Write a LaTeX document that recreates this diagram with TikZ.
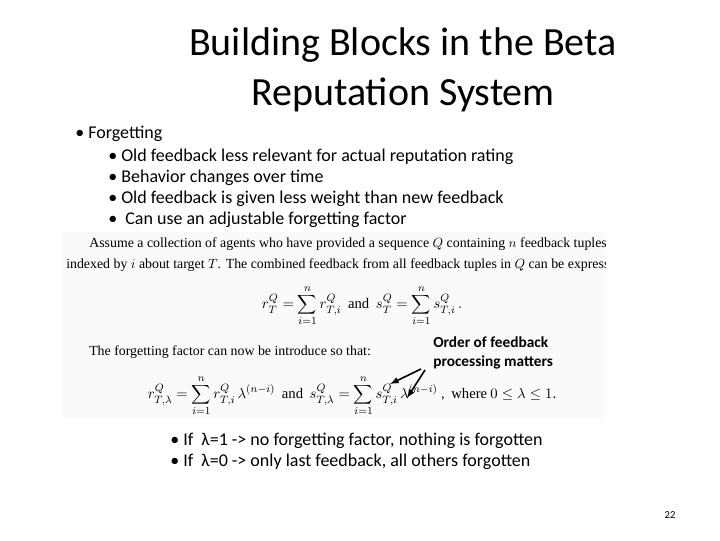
\documentclass[tikz,border=0pt]{standalone}
\usepackage{fontspec}
\setmainfont{Carlito}
\newfontfamily\serif{Liberation Serif}
\begin{document}
\begin{tikzpicture}[x=0.75pt,y=-0.75pt,
  bul/.style={anchor=west,font=\fontsize{13.5}{16}\selectfont,inner sep=0},
  ser/.style={anchor=west,font=\serif\fontsize{10.4}{13}\selectfont,inner sep=0},
  eq/.style={font=\fontsize{11}{13}\selectfont,inner sep=0},
  ann/.style={anchor=west,font=\bfseries\fontsize{11.5}{14.5}\selectfont,inner sep=0,align=left}]
\useasboundingbox (0,0) rectangle (720,540);
\node[font=\fontsize{30}{37.5}\selectfont,align=center] (title) at (403,70) {Building Blocks in the Beta\\Reputation System};
\node[bul] (b0) at (75,134) {• Forgetting};
\node[bul] (b1) at (108,157) {• Old feedback less relevant for actual reputation rating};
\node[bul] (b2) at (108,178) {• Behavior changes over time};
\node[bul] (b3) at (108,199) {• Old feedback is given less weight than new feedback};
\node[bul] (b4) at (108,220) {•\ \ Can use an adjustable forgetting factor};
\begin{scope}
\clip (62,232) rectangle (605,418);
\fill[gray!4] (62,232) rectangle (605,418);
\node[ser] (t1) at (89,244) {Assume a collection of agents who have provided a sequence $Q$ containing $n$ feedback tuples $(r^Q_{T,i}, s^Q_{T,i})$};
\node[ser] (t2) at (66,265) {indexed by $i$ about target $T$. The combined feedback from all feedback tuples in $Q$ can be expressed as:};
\node[eq] (e1) at (362,306) {$r^Q_T=\displaystyle\sum_{i=1}^n r^Q_{T,i}$\ \ {\serif and}\ \ $s^Q_T=\displaystyle\sum_{i=1}^n s^Q_{T,i}\,.$};
\node[ser] (t3) at (89,352) {The forgetting factor can now be introduce so that:};
\node[eq] (e2) at (352,396) {$r^Q_{T,\lambda}=\displaystyle\sum_{i=1}^n r^Q_{T,i}\,\lambda^{(n-i)}$\ \ {\serif and}\ \ $s^Q_{T,\lambda}=\displaystyle\sum_{i=1}^n s^Q_{T,i}\,\lambda^{(n-i)}$\ ,\ \ {\serif where} $0\le\lambda\le1$.};
\end{scope}
\node[ann] (a) at (433,353) {Order of feedback\\processing matters};
\coordinate (a1) at (390,384);
\coordinate (a2) at (407,398);
\draw[line width=1.2pt,-latex] (421,369) -- (a1);
\draw[line width=1.2pt,-latex] (425,370) -- (a2);
\node[bul] (c1) at (170,441) {• If \ λ=1 -> no forgetting factor, nothing is forgotten};
\node[bul] (c2) at (170,462) {• If \ λ=0 -> only last feedback, all others forgotten};
\node[font=\fontsize{8}{10}\selectfont] (pg) at (670,515) {22};
\end{tikzpicture}
\end{document}
